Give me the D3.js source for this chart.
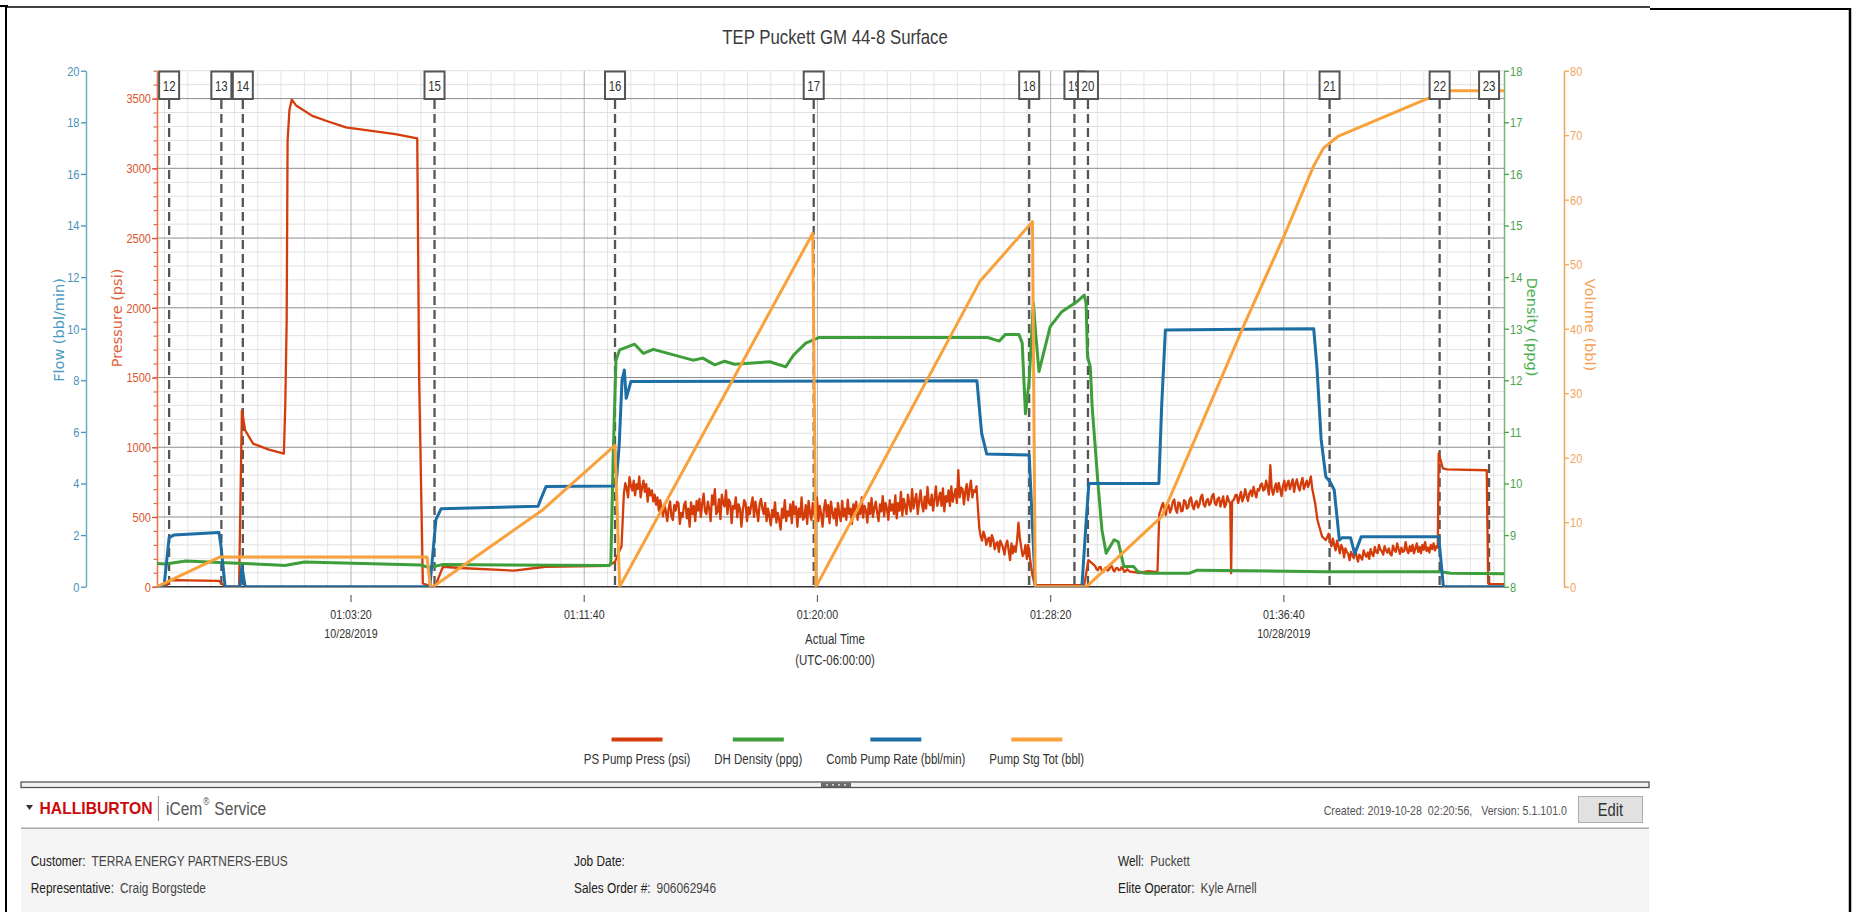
<!DOCTYPE html>
<html><head><meta charset="utf-8">
<script src="https://cdn.jsdelivr.net/npm/d3@7"></script>
<style>
html,body{margin:0;padding:0;background:#fff;overflow:hidden;}
svg{display:block;}
</style></head><body>
<svg id="c" width="1856" height="912"></svg>
<script>
// ---------------- DATA (time = seconds since midnight, 10/28/2019) ----------------
const chartTitle = "TEP Puckett GM 44-8 Surface";
const timeDomain = [3384, 6272];
const xTickTimes = [3800, 4300, 4800, 5300, 5800];
const xTickDates = ["10/28/2019", "", "", "", "10/28/2019"];
const flowDomain = [0, 20];
const pressDomain = [0, 3700];
const densDomain = [8, 18];
const volDomain = [0, 80];
const flowTicks = [0, 2, 4, 6, 8, 10, 12, 14, 16, 18, 20];
const pressTicks = [0, 500, 1000, 1500, 2000, 2500, 3000, 3500];
const densTicks = [8, 9, 10, 11, 12, 13, 14, 15, 16, 17, 18];
const volTicks = [0, 10, 20, 30, 40, 50, 60, 70, 80];

const eventLabels = ["12","13","14","15","16","17","18","19","20","21","22","23"];
const eventTimes  = [3410, 3522, 3568, 3979, 4366, 4792, 5254, 5351, 5380, 5898, 6134, 6240];

const seriesNames = ["PS Pump Press (psi)", "DH Density (ppg)", "Comb Pump Rate (bbl/min)", "Pump Stg Tot (bbl)"];
const seriesColors = ["#d43d0a", "#3d9e3a", "#1c6ea4", "#f9a23c"];

// Comb Pump Rate (bbl/min)
const flowRate = [[3384,0],[3399,0],[3410,1.9],[3420,2.0],[3517,2.1],[3521,1.6],[3530,0],[3562,0],[3566,0.8],[3573,0],
 [3969,0],[3982,2.6],[3993,3.02],[4201,3.12],[4207,3.4],[4218,3.88],[4368,3.9],[4375,5.5],[4381,8.0],[4386,8.4],[4390,7.3],
 [4400,7.95],[5142,7.98],[5152,5.95],[5163,5.14],[5254,5.1],[5267,0],[5367,0],[5376,2.5],[5382,4.0],[5532,4.0],[5538,7.0],
 [5546,9.95],[5864,10.0],[5871,8.5],[5880,5.7],[5890,4.26],[5899,4.07],[5908,3.75],[5919,1.81],[5925,1.9],[5943,1.9],
 [5952,1.27],[5966,1.94],[6132,1.94],[6142,0],[6272,0]];

// PS Pump Press (psi): smooth parts as [time, psi]
const pressSmooth = [[3384,0],[3403,0],[3412,48],[3450,46],[3517,42],[3523,20],[3532,0],[3560,0],[3566,1265],[3573,1122],
 [3590,1026],[3624,983],[3656,955],[3659,1300],[3662,1908],[3664,3197],[3668,3420],[3673,3493],[3683,3448],[3717,3376],
 [3751,3336],[3789,3293],[3895,3245],[3942,3214],[3946,1500],[3954,24],[3972,0],[3980,0],[3997,143],[4034,134],[4150,115],
 [4217,143],[4353,150],[4366,180],[4372,230],[4380,290],
 [5261,80],[5266,12],[5372,12],[5381,191],[5389,167],
 [5470,108],[5490,100],[5510,112],[5529,104],[5533,525],
 [5687,96],[5689,610],
 [5867,600],[5872,480],[5876,430],[5882,360],[5890,334],
 [6132,955],[6141,848],[6150,842],[6235,835],[6238,24],[6245,19],[6272,19]];
// PS Pump Press (psi): noisy stretches, sampled every 3 s from the given start
const pressSampleStep = 3;
const pressNoiseStarts = [4385, 5147, 5395, 5535, 5693, 5896];
const pressNoise1 = [
 668,742,705,640,785,722,690,760,655,735,702,790,640,712,760,680,735,610,705,655,
 690,612,660,588,640,545,620,560,505,590,540,470,560,612,505,478,585,545,610,598,
 450,530,500,585,610,490,560,430,605,520,580,470,615,545,630,500,598,668,540,520,
 610,560,470,655,590,700,520,540,628,485,660,600,575,690,520,625,600,455,580,560,
 640,498,590,560,430,545,620,600,470,570,520,585,640,500,610,545,470,590,630,560,
 520,600,470,560,505,440,550,500,605,460,530,480,410,560,495,620,470,540,510,590,
 455,610,520,575,430,560,500,640,480,500,585,450,615,530,480,600,545,455,640,470,
 580,520,430,560,620,505,585,455,610,530,490,560,440,600,525,470,615,505,560,480,
 625,520,560,450,590,540,610,480,570,520,640,495,580,545,460,600,520,635,500,565,
 610,530,470,590,540,650,505,600,560,480,620,545,590,520,655,490,600,545,680,510,
 630,575,520,660,600,540,700,560,620,665,520,610,690,590,540,645,560,715,600,585,
 660,545,630,720,580,630,675,580,705,540,650,610,690,580,720,610,655,700,600,835,
 640,710,700,590,680,735,620,700,760,640,690,680,720];
const pressNoise2 = [420,360,330,395,365,300,340,352,290,370,340,268,310,320,250,330,305,280,230,300,
 330,260,190,310,240,290,250,330,460,350,280,220,240,300,200,300,220];
const pressNoise3 = [150,128,118,140,142,112,105,130,138,116,122,145,148,120,110,132,135,118,120,140,128,106,112,125];
const pressNoise4 = [540,575,600,548,515,590,585,532,560,610,625,555,530,605,598,540,545,620,610,560,
 570,625,640,580,555,600,615,568,590,642,660,590,575,615,630,585,600,650,665,600,
 585,630,640,575,610,648,570,590,650,615,600];
const pressNoise5 = [625,655,660,600,640,680,612,640,700,655,615,670,690,650,715,675,640,700,690,730,
 740,690,700,760,715,660,871,700,660,705,740,680,745,700,650,720,760,690,735,760,
 700,735,770,680,740,770,715,690,745,780,700,730,760,715,750,790,700];
const pressNoise6 = [380,330,290,345,300,260,330,290,240,300,275,210,275,250,235,190,250,225,205,270,
 220,180,230,210,195,260,230,215,245,200,270,235,220,285,250,240,300,265,255,230,
 290,260,245,275,235,225,295,265,250,310,270,235,280,250,255,320,265,240,290,255,
 300,240,275,310,250,285,240,300,265,320,255,280,245,300,270,310,260,290,280];

// DH Density (ppg)
const density = [[3384,8.45],[3403,8.44],[3446,8.50],[3518,8.47],[3641,8.42],[3658,8.41],[3700,8.48],[3950,8.42],[3967,8.37],
 [3997,8.43],[4353,8.41],[4357,8.45],[4362,10.5],[4368,12.39],[4376,12.59],[4408,12.70],[4427,12.52],[4448,12.60],[4533,12.39],
 [4554,12.43],[4580,12.30],[4601,12.37],[4622,12.31],[4698,12.36],[4732,12.26],[4749,12.49],[4775,12.72],[4804,12.83],
 [5165,12.83],[5190,12.76],[5203,12.89],[5232,12.89],[5239,12.72],[5246,11.35],[5254,12.0],[5263,13.5],[5268,12.9],
 [5275,12.17],[5299,13.04],[5324,13.33],[5356,13.52],[5372,13.65],[5376,13.49],[5379,12.46],[5381,12.39],[5385,12.26],
 [5389,11.49],[5402,9.94],[5410,9.10],[5419,8.65],[5436,8.91],[5445,8.87],[5457,8.39],[5478,8.39],[5487,8.29],[5504,8.26],
 [5597,8.26],[5614,8.32],[5889,8.29],[6136,8.29],[6158,8.26],[6272,8.25]];

// Pump Stg Tot (bbl)
const volume = [[3384,0],[3518,4.6],[3963,4.6],[3970,0],[3976,0],[4209,11.8],[4366,21.9],[4376,0],[4790,54.8],[4797,0],
 [5148,47.3],[5261,56.6],[5267,0],[5377,0],[5538,10.85],[5719,41.3],[5800,54.3],[5863,65.1],[5885,68.0],[5916,69.8],
 [6109,75.7],[6127,76.2],[6158,76.9],[6272,76.9]];

const footerLabels = [["Customer", "Job Date", "Well"], ["Representative", "Sales Order #", "Elite Operator"]];
const footerValues = [["TERRA ENERGY PARTNERS-EBUS", "", "Puckett"], ["Craig Borgstede", "906062946", "Kyle Arnell"]];
const createdText = "Created: 2019-10-28\u00a0\u00a002:20:56,\u00a0\u00a0\u00a0Version: 5.1.101.0";

// ---------------- DRAWING ----------------
const BASE = '"Liberation Sans",Arial,sans-serif';
const WIDE = '"DejaVu Sans","Verdana",sans-serif';
// condensed look: Arial-metric font squeezed horizontally about its anchor x
function narrow(sel, k) {
  k = k || 0.82;
  sel.style("font-family", BASE).each(function(){
    const x0 = +this.getAttribute("x") || 0;
    this.setAttribute("transform", `matrix(${k},0,0,1,${(x0 * (1 - k)).toFixed(3)},0)`);
    this.__nw = this.getComputedTextLength() * k;
  });
  return sel;
}
const nw = sel => sel.node().__nw || 0;
const svg = d3.select("#c");
const L = 157, R = 1504, T = 70.7, B = 586.7;

const x = d3.scaleLinear().domain(timeDomain).range([L, R]);
const yP = d3.scaleLinear().domain(pressDomain).range([B, T]);
const yF = d3.scaleLinear().domain(flowDomain).range([B, T]);
const yD = d3.scaleLinear().domain(densDomain).range([B, T]);
const yV = d3.scaleLinear().domain(volDomain).range([B, T]);

const fmtTime = s => { const h = Math.floor(s/3600), m = Math.floor((s%3600)/60), ss = s%60;
  return [h,m,ss].map(v => String(v).padStart(2,"0")).join(":"); };

// frame
const frame = svg.append("g").attr("stroke", "#000").attr("fill", "none");
frame.append("line").attr("x1",6).attr("x2",1650).attr("y1",7).attr("y2",7).attr("stroke-width",1.5);
frame.append("line").attr("x1",0).attr("x2",8).attr("y1",6).attr("y2",6).attr("stroke-width",2);
frame.append("line").attr("x1",1650).attr("x2",1851).attr("y1",9).attr("y2",9).attr("stroke-width",2);
frame.append("line").attr("x1",6).attr("x2",6).attr("y1",6).attr("y2",912).attr("stroke-width",2);
frame.append("line").attr("x1",1850).attr("x2",1850).attr("y1",8).attr("y2",912).attr("stroke-width",2.5);

// title
narrow(svg.append("text").attr("x", 835).attr("y", 37).attr("text-anchor","middle").attr("dominant-baseline","central")
  .style("font-size","20.5px").attr("fill","#3a3a3a").text(chartTitle));

// grid
const grid = svg.append("g");
const vMinor = d3.range(3400, timeDomain[1], 50).filter(t => !xTickTimes.includes(t));
grid.selectAll(".vmin").data(vMinor).join("line")
  .attr("x1", d => x(d)).attr("x2", d => x(d)).attr("y1", T).attr("y2", B).attr("stroke", "#e4e4e4").attr("stroke-width", 1);
const hMinor = d3.range(100, pressDomain[1] + 1, 100).filter(p => p % 500 !== 0);
grid.selectAll(".hmin").data(hMinor).join("line")
  .attr("x1", L).attr("x2", R).attr("y1", d => yP(d)).attr("y2", d => yP(d)).attr("stroke", "#e1e1e1").attr("stroke-width", 1);
grid.selectAll(".vmaj").data(xTickTimes).join("line")
  .attr("x1", d => x(d)).attr("x2", d => x(d)).attr("y1", T).attr("y2", B).attr("stroke", "#b4b4b4").attr("stroke-width", 1);
grid.selectAll(".hmaj").data(pressTicks.filter(p => p > 0)).join("line")
  .attr("x1", L).attr("x2", R).attr("y1", d => yP(d)).attr("y2", d => yP(d)).attr("stroke", "#8e8e8e").attr("stroke-width", 1);

// event dashed lines (beneath data)
const ev = eventLabels.map((l, i) => ({label: l, t: eventTimes[i]}));
svg.append("g").selectAll("line").data(ev).join("line")
  .attr("x1", d => x(d.t)).attr("x2", d => x(d.t)).attr("y1", 100).attr("y2", B)
  .attr("stroke", "#555").attr("stroke-width", 2.3).attr("stroke-dasharray", "9,5");

// axes
function styleAxis(g, color) {
  g.attr("font-size", 13.5);
  g.select("path.domain").attr("stroke", color).attr("stroke-width", 1.5);
  g.selectAll(".tick line").attr("stroke", color).attr("stroke-width", 1.3);
  g.selectAll(".tick text").attr("fill", color);
  narrow(g.selectAll(".tick text"));
}
const fmtInt = d3.format("d");
const gF = svg.append("g").attr("transform", "translate(86,0)")
  .call(d3.axisLeft(yF).tickValues(flowTicks).tickFormat(fmtInt).tickSize(5).tickPadding(1.5).tickSizeOuter(0));
styleAxis(gF, "#4a92ba");
gF.select("path.domain").attr("stroke", "#6aaacb");
const gPm = svg.append("g").attr("transform", `translate(${L},0)`)
  .call(d3.axisLeft(yP).tickValues(d3.range(0, pressDomain[1] + 1, 100)).tickSize(3.5).tickFormat("").tickSizeOuter(0));
gPm.select("path.domain").remove();
gPm.selectAll(".tick text").remove();
gPm.selectAll(".tick line").attr("stroke", "#e8683f").attr("stroke-width", 1.2);
const gP = svg.append("g").attr("transform", `translate(${L},0)`)
  .call(d3.axisLeft(yP).tickValues(pressTicks).tickFormat(fmtInt).tickSize(5).tickPadding(1).tickSizeOuter(0));
styleAxis(gP, "#d9552e");
gP.select("path.domain").attr("stroke", "#ec7048");
const gD = svg.append("g").attr("transform", `translate(${R},0)`)
  .call(d3.axisRight(yD).tickValues(densTicks).tickFormat(fmtInt).tickSize(5).tickPadding(1).tickSizeOuter(0));
styleAxis(gD, "#4ba24b");
gD.select("path.domain").attr("stroke", "#72b972");
const gV = svg.append("g").attr("transform", "translate(1564,0)")
  .call(d3.axisRight(yV).tickValues(volTicks).tickFormat(fmtInt).tickSize(5).tickPadding(1).tickSizeOuter(0));
styleAxis(gV, "#f2a55a");

// axis titles
const titles = [
  {t: "Flow (bbl/min)", x: 59, y: 330, rot: -90, c: "#4a9cc4"},
  {t: "Pressure (psi)", x: 117, y: 318, rot: -90, c: "#e0603a"},
  {t: "Density (ppg)", x: 1532, y: 327, rot: 90, c: "#4caf50"},
  {t: "Volume (bbl)", x: 1590, y: 325, rot: 90, c: "#f5a55a"}
];
svg.append("g").selectAll("text").data(titles).join("text")
  .attr("transform", d => `translate(${d.x},${d.y}) rotate(${d.rot})`)
  .attr("text-anchor", "middle").attr("dominant-baseline", "central")
  .style("font-family", WIDE).style("font-size", "14.5px").attr("fill", d => d.c).text(d => d.t);

// x axis
svg.append("line").attr("x1", L).attr("x2", R).attr("y1", B).attr("y2", B).attr("stroke", "#333").attr("stroke-width", 1.5);
const gx = svg.append("g");
gx.selectAll("line").data(xTickTimes).join("line")
  .attr("x1", d => x(d)).attr("x2", d => x(d)).attr("y1", 595).attr("y2", 602).attr("stroke", "#666").attr("stroke-width", 1.2);
narrow(gx.selectAll("text.tl").data(xTickTimes).join("text").attr("class","tl")
  .attr("x", d => x(d)).attr("y", 614.5).attr("text-anchor","middle").attr("dominant-baseline","central")
  .style("font-size","13px").attr("fill","#333").text(d => fmtTime(d)));
narrow(gx.selectAll("text.dl").data(xTickTimes.map((t,i) => ({t, d: xTickDates[i]})).filter(d => d.d)).join("text").attr("class","dl")
  .attr("x", d => x(d.t)).attr("y", 634).attr("text-anchor","middle").attr("dominant-baseline","central")
  .style("font-size","13px").attr("fill","#333").text(d => d.d));
narrow(svg.append("text").attr("x", 835).attr("y", 639.5).attr("text-anchor","middle").attr("dominant-baseline","central")
  .style("font-size","14px").attr("fill","#333").text("Actual Time"));
narrow(svg.append("text").attr("x", 835).attr("y", 660).attr("text-anchor","middle").attr("dominant-baseline","central")
  .style("font-size","14px").attr("fill","#333").text("(UTC-06:00:00)"));

// series
const noiseArrays = [pressNoise1, pressNoise2, pressNoise3, pressNoise4, pressNoise5, pressNoise6];
let pressure = pressSmooth.slice();
noiseArrays.forEach((arr, k) => arr.forEach((v, i) => pressure.push([pressNoiseStarts[k] + i * pressSampleStep, v])));
pressure.sort((a, b) => a[0] - b[0]);

svg.append("defs").append("clipPath").attr("id","plotclip").append("rect")
  .attr("x", L).attr("y", T - 2).attr("width", R - L).attr("height", B - T + 2);
const plot = svg.append("g").attr("clip-path", "url(#plotclip)");
const mk = ys => d3.line().x(d => x(d[0])).y(d => ys(d[1]));
plot.append("path").datum(pressure).attr("d", mk(yP)).attr("fill","none").attr("stroke", seriesColors[0])
  .attr("stroke-width", 2.3).attr("stroke-linejoin","round");
plot.append("path").datum(density).attr("d", mk(yD)).attr("fill","none").attr("stroke", seriesColors[1])
  .attr("stroke-width", 3).attr("stroke-linejoin","round");
plot.append("path").datum(flowRate).attr("d", mk(yF)).attr("fill","none").attr("stroke", seriesColors[2])
  .attr("stroke-width", 3).attr("stroke-linejoin","round");
plot.append("path").datum(volume).attr("d", mk(yV)).attr("fill","none").attr("stroke", seriesColors[3])
  .attr("stroke-width", 3).attr("stroke-linejoin","round");

// event boxes (on top)
const eg = svg.append("g").selectAll("g").data(ev).join("g").attr("transform", d => `translate(${x(d.t)},0)`);
eg.append("rect").attr("x", -10).attr("y", 71.5).attr("width", 20).attr("height", 27.5)
  .attr("fill", "#fff").attr("stroke", "#555").attr("stroke-width", 2);
narrow(eg.append("text").attr("x", 0).attr("y", 86).attr("text-anchor","middle").attr("dominant-baseline","central")
  .style("font-size","14px").attr("fill","#333").text(d => d.label));

// legend
const lg = svg.append("g");
const items = lg.selectAll("g").data(seriesNames).join("g");
const ltext = items.append("text").attr("x", 0).attr("y", 759.5).attr("text-anchor","middle").attr("dominant-baseline","central")
  .style("font-size","14px").attr("fill","#333").text(d => d);
narrow(ltext);
const widths = []; ltext.each(function(){ widths.push(this.__nw); });
const gap = 24, total = d3.sum(widths) + gap * (widths.length - 1);
let cx = 834 - total / 2;
items.each(function(d, i){
  const c = cx + widths[i] / 2; cx += widths[i] + gap;
  d3.select(this).attr("transform", `translate(${c},0)`);
  d3.select(this).append("line").attr("x1", -25.5).attr("x2", 25.5).attr("y1", 739.5).attr("y2", 739.5)
    .attr("stroke", seriesColors[i]).attr("stroke-width", 4);
});

// separator bar
svg.append("rect").attr("x", 21).attr("y", 782).attr("width", 1628).attr("height", 5.5)
  .attr("fill", "#f2f2f2").attr("stroke", "#555").attr("stroke-width", 1.3);
svg.append("rect").attr("x", 821).attr("y", 782.5).attr("width", 30).attr("height", 4.5).attr("fill", "#6a6a6a");
svg.selectAll("circle.hd").data([0,1,2,3]).join("circle").attr("class","hd")
  .attr("cx", d => 827 + d * 6).attr("cy", 784.8).attr("r", 0.9).attr("fill", "#fff");

// header row
svg.append("path").attr("d", "M26,805 L33,805 L29.5,810 Z").attr("fill", "#333");
svg.append("text").attr("x", 39.5).attr("y", 808.5).attr("dominant-baseline","central")
  .style("font-family", BASE).style("font-weight","bold").style("font-size","15.7px")
  .attr("fill","#cc0a0a").text("HALLIBURTON");
svg.append("line").attr("x1",158.4).attr("x2",158.4).attr("y1",796).attr("y2",821).attr("stroke","#888").attr("stroke-width",1);
const icem = narrow(svg.append("text").attr("x", 166).attr("y", 808.5).attr("dominant-baseline","central")
  .style("font-size","19px").attr("fill","#555").text("iCem"));
const reg = narrow(svg.append("text").attr("x", 166 + nw(icem) + 1).attr("y", 802).attr("dominant-baseline","central")
  .style("font-size","10px").attr("fill","#555").text("®"));
narrow(svg.append("text").attr("x", 166 + nw(icem) + nw(reg) + 6).attr("y", 808.5).attr("dominant-baseline","central")
  .style("font-size","19px").attr("fill","#555").text("Service"));
narrow(svg.append("text").attr("x", 1567).attr("y", 810.5).attr("text-anchor","end").attr("dominant-baseline","central")
  .style("font-size","13px").attr("fill","#555").text(createdText));
svg.append("rect").attr("x", 1578.5).attr("y", 796.5).attr("width", 64).attr("height", 26)
  .attr("fill", "#e1e1e1").attr("stroke", "#adadad").attr("stroke-width", 1);
narrow(svg.append("text").attr("x", 1610.5).attr("y", 809).attr("text-anchor","middle").attr("dominant-baseline","central")
  .style("font-size","18px").attr("fill","#333").text("Edit"));

// info panel
svg.append("rect").attr("x", 21).attr("y", 829).attr("width", 1628).attr("height", 90).attr("fill", "#f5f5f5");
svg.append("line").attr("x1", 21).attr("x2", 1649).attr("y1", 828.3).attr("y2", 828.3).attr("stroke", "#a8a8a8").attr("stroke-width", 1.5);
const colX = [30.8, 574, 1118];
const rowY = [861, 888.5];
footerLabels.forEach((row, r) => row.forEach((lab, c) => {
  const lt = narrow(svg.append("text").attr("x", colX[c]).attr("y", rowY[r]).attr("dominant-baseline","central")
    .style("font-size","14.5px").attr("fill","#222").text(lab + ":"));
  const val = footerValues[r][c];
  if (val) narrow(svg.append("text").attr("x", colX[c] + nw(lt) + 6).attr("y", rowY[r]).attr("dominant-baseline","central")
    .style("font-size","14.5px").attr("fill","#444").text(val));
}));
</script></body></html>
